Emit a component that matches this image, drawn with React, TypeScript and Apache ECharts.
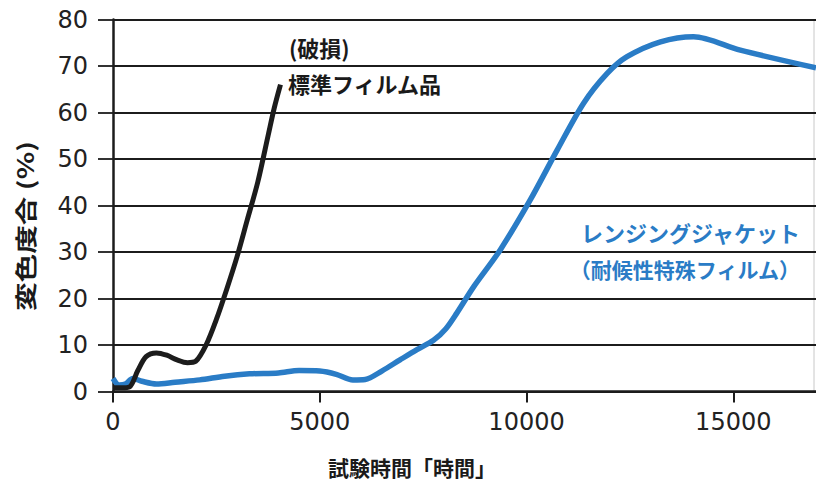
import React, { useEffect, useRef } from "react";
import * as echarts from "echarts";

const xTicks = [0, 5000, 10000, 15000];
const yTicks = [0, 10, 20, 30, 40, 50, 60, 70, 80];

const standardHours = [0, 200, 400, 600, 800, 1050, 1300, 1550, 1800, 2000, 2250, 2500, 2750, 3000, 3250, 3500, 3750, 3900, 4050];
const standardValues = [0.8, 0.8, 1.0, 4.5, 7.5, 8.3, 7.8, 6.8, 6.2, 6.5, 10, 15.5, 22, 29, 37, 45, 55, 61, 66];

const jacketHours = [0, 150, 300, 480, 700, 1050, 1500, 2100, 2700, 3300, 4000, 4500, 5000, 5400, 5800, 6100, 6500, 6940, 7350, 7750, 8050, 8310, 8720, 9360, 10090, 10740, 11380, 11950, 12430, 13240, 14040, 15170, 17000];
const jacketValues = [2.8, 1.4, 1.6, 2.8, 2.2, 1.6, 2.0, 2.5, 3.3, 3.8, 4.0, 4.5, 4.4, 3.7, 2.5, 2.6, 4.4, 6.8, 9.0, 11, 13.5, 16.8, 22.5, 30.4, 41.2, 51.9, 62, 68.4, 72, 75.2, 76.3, 73.4, 69.6];

const standardLabel = ["(破損)", "標準フィルム品"];
const jacketLabel = ["レンジングジャケット", "（耐候性特殊フィルム）"];
const yTitle = "変色度合 (%)";
const xTitle = "試験時間「時間」";

const BLUE = "#2a7cc6";
const INK = "#1c1c1c";
const CJK = "'Noto Sans CJK JP', 'Noto Sans', sans-serif";
const NUM = "'DejaVu Sans', Verdana, sans-serif";

export default function App() {
  const ref = useRef<HTMLDivElement>(null);
  useEffect(() => {
    if (!ref.current) return;
    const chart = echarts.init(ref.current, null, { renderer: "svg" });
    const pair = (xs: number[], ys: number[]) => xs.map((x, i) => [x, ys[i]]);
    chart.setOption({
      animation: false,
      backgroundColor: "#ffffff",
      grid: { left: 113, right: 0, top: 19.5, bottom: 89.5, containLabel: false },
      xAxis: {
        type: "value",
        min: xTicks[0],
        max: 17000,
        interval: xTicks[1] - xTicks[0],
        axisLine: { show: true, lineStyle: { color: INK, width: 2.5 } },
        axisTick: { show: true, inside: false, length: 11, lineStyle: { color: INK, width: 2 } },
        axisLabel: { showMaxLabel: false, margin: 18, fontSize: 24, fontFamily: NUM, color: "#222", formatter: (v: number) => String(v) },
        splitLine: { show: false },
      },
      yAxis: {
        type: "value",
        min: yTicks[0],
        max: yTicks[yTicks.length - 1],
        interval: yTicks[1] - yTicks[0],
        axisLine: { show: true, lineStyle: { color: INK, width: 2.5 } },
        axisTick: { show: true, inside: false, length: 15, lineStyle: { color: INK, width: 1.8 } },
        axisLabel: { margin: 25, fontSize: 24, fontFamily: NUM, color: "#222", formatter: (v: number) => String(v) },
        splitLine: { show: true, lineStyle: { color: INK, width: 1.8 } },
      },
      series: [
        {
          type: "line",
          data: pair(jacketHours, jacketValues),
          smooth: 0.3,
          symbol: "none",
          clip: true,
          lineStyle: { color: BLUE, width: 5.5 },
          z: 3,
        },
        {
          type: "line",
          data: pair(standardHours, standardValues),
          smooth: 0.3,
          symbol: "none",
          clip: true,
          lineStyle: { color: INK, width: 5 },
          z: 4,
        },
      ],
      graphic: [
        { type: "line", shape: { x1: 814, y1: 19, x2: 814, y2: 392 }, style: { stroke: "#c8c8c8", lineWidth: 1 } },
        {
          type: "text", x: 289, y: 47,
          style: { text: standardLabel[0], font: `bold 22px ${CJK}`, lineHeight: 24, fill: "#1a1a1a", textAlign: "left", textVerticalAlign: "middle" },
        },
        {
          type: "text", x: 288, y: 83,
          style: { text: standardLabel[1], font: `bold 22px ${CJK}`, lineHeight: 24, fill: "#1a1a1a", textAlign: "left", textVerticalAlign: "middle" },
        },
        {
          type: "text", x: 800, y: 232,
          style: { text: jacketLabel[0], font: `bold 22px ${CJK}`, lineHeight: 24, fill: BLUE, textAlign: "right", textVerticalAlign: "middle" },
        },
        {
          type: "text", x: 800, y: 269,
          style: { text: jacketLabel[1], font: `bold 21px ${CJK}`, lineHeight: 24, fill: BLUE, textAlign: "right", textVerticalAlign: "middle" },
        },
        {
          type: "text", x: 24, y: 226, rotation: Math.PI / 2, scaleX: 1.3,
          style: { text: yTitle, font: `bold 22px ${CJK}`, lineHeight: 24, fill: "#1a1a1a", textAlign: "center", textVerticalAlign: "middle" },
        },
        {
          type: "text", x: 412, y: 467,
          style: { text: xTitle, font: `bold 21px ${CJK}`, lineHeight: 22, fill: "#1a1a1a", textAlign: "center", textVerticalAlign: "middle" },
        },
      ],
    });
    return () => chart.dispose();
  }, []);
  return <div ref={ref} style={{ position: "fixed", left: 0, top: 0, width: 816, height: 481 }} />;
}
